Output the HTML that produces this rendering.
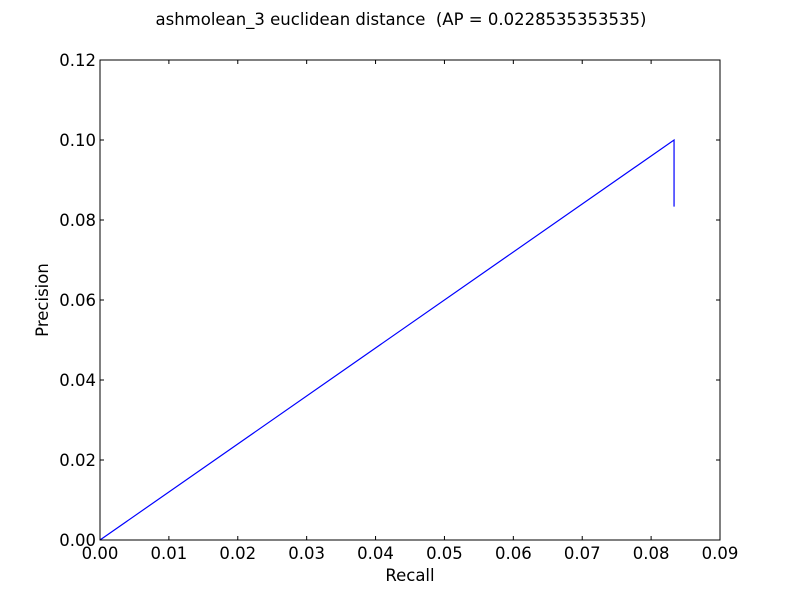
<!DOCTYPE html>
<html><head><meta charset="utf-8"><style>body{margin:0;background:#fff}svg{display:block;font-family:"DejaVu Sans","Liberation Sans",sans-serif}</style></head>
<body>
<svg id="chart" width="800" height="600">
<rect width="800" height="600" fill="#fff"/>
<text x="401" y="25" text-anchor="middle" font-size="16.5" xml:space="preserve" style="white-space:pre">ashmolean_3 euclidean distance  (AP = 0.0228535353535)</text>
<g id="ticks"></g>
<polyline id="line" fill="none" stroke="#0000ff" stroke-width="1.2"/>
<rect x="100" y="60" width="620" height="480" fill="none" stroke="#000" stroke-width="1"/>
<text x="410" y="581" text-anchor="middle" font-size="16.5">Recall</text>
<text transform="translate(48,300) rotate(-90)" text-anchor="middle" font-size="16.5">Precision</text>
</svg>
<script>
const recall = [0, 0.08333, 0.08333];
const precision = [0, 0.1, 0.08333];
const xTicks = ["0.00","0.01","0.02","0.03","0.04","0.05","0.06","0.07","0.08","0.09"];
const yTicks = ["0.00","0.02","0.04","0.06","0.08","0.10","0.12"];
const X0=100,X1=720,Y0=540,Y1=60,XMAX=0.09,YMAX=0.12;
const sx=v=>X0+(X1-X0)*v/XMAX, sy=v=>Y0-(Y0-Y1)*v/YMAX;
const ns="http://www.w3.org/2000/svg", g=document.getElementById('ticks');
function mk(t,a){const e=document.createElementNS(ns,t);for(const k in a)e.setAttribute(k,a[k]);g.appendChild(e);return e;}
xTicks.forEach(t=>{const x=sx(parseFloat(t));
 let l=mk('line',{x1:x,x2:x,y1:Y0,y2:Y0-4,stroke:'#000'});
 
 
 let l2=mk('line',{x1:x,x2:x,y1:Y1,y2:Y1+4,stroke:'#000'});
 
 
 let tx=mk('text',{x:x,y:Y0+19,'text-anchor':'middle','font-size':16.5});tx.textContent=t;
 
 });
yTicks.forEach(t=>{const y=sy(parseFloat(t));
 let l=mk('line',{x1:X0,x2:X0+4,y1:y,y2:y,stroke:'#000'});
 
 
 let l2=mk('line',{x1:X1,x2:X1-4,y1:y,y2:y,stroke:'#000'});
 
 
 let tx=mk('text',{x:X0-4,y:y+6,'text-anchor':'end','font-size':16.5});tx.textContent=t;
 
 });
document.getElementById('line').setAttribute('points',recall.map((r,i)=>sx(r)+','+sy(precision[i])).join(' '));
</script>
</body></html>
